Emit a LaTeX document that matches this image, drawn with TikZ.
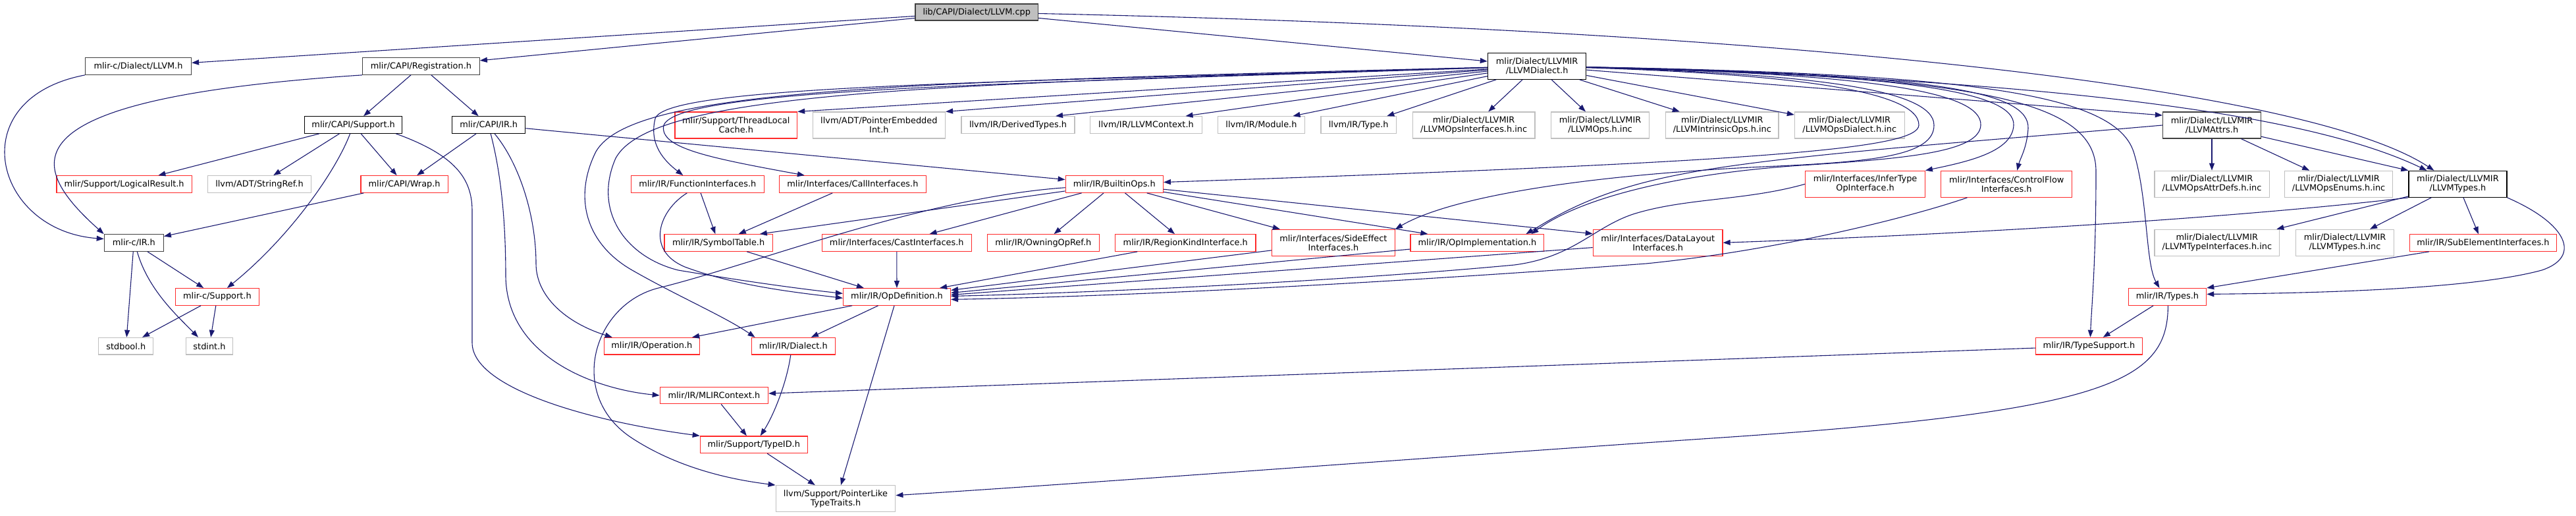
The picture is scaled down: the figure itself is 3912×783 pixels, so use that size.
\documentclass[tikz,border=0pt]{standalone}
\usepackage{fontspec}
\setmainfont{DejaVu Sans}
\usetikzlibrary{arrows.meta,calc}
\definecolor{edgecol}{HTML}{191970}
\definecolor{grey75}{HTML}{BFBFBF}
\definecolor{rdcol}{HTML}{FF2A2A}
\definecolor{dkcol}{HTML}{404040}
\newcommand{\dxfont}{\fontsize{12.9}{14}\selectfont}
\begin{document}
\begin{tikzpicture}[x=1pt,y=-1pt,
  nbox/.style={draw, rectangle, inner sep=0pt, align=center, font=\dxfont, line width=1.2pt, text=black, fill=white},
  blk/.style={nbox, draw=black},
  dk/.style={nbox, draw=dkcol},
  rd/.style={nbox, draw=rdcol},
  gy/.style={nbox, draw=grey75},
  rootbox/.style={nbox, draw=dkcol, fill=grey75},
  dep/.style={draw=edgecol, line width=1.1pt, -{Triangle[length=11pt,width=8pt]}}]
\useasboundingbox (0,0) rectangle (3912,783);
% ---------- nodes ----------
\node[rootbox, minimum width=186.5, minimum height=25] (cpp) at (1483.25,18.5) {lib/CAPI/Dialect/LLVM.cpp};
\node[dk, minimum width=161, minimum height=25.6] (cLLVM) at (210,100.5) {mlir-c/Dialect/LLVM.h};
\node[dk, minimum width=177.8, minimum height=25.6] (reg) at (639.4,100.5) {mlir/CAPI/Registration.h};
\node[blk, minimum width=149.4, minimum height=40] (dial) at (2334.1,100.3) {mlir/Dialect/LLVMIR\\/LLVMDialect.h};
\node[blk, minimum width=148.1, minimum height=25.6] (capisup) at (536.65,189.5) {mlir/CAPI/Support.h};
\node[blk, minimum width=111.1, minimum height=25.6] (capiir) at (742.15,189.5) {mlir/CAPI/IR.h};
\node[rd, minimum width=185.6, minimum height=40] (tlc) at (1117.8,190) {mlir/Support/ThreadLocal\\Cache.h};
\node[gy, minimum width=201.3, minimum height=40] (pei) at (1334.85,190) {llvm/ADT/PointerEmbedded\\Int.h};
\node[gy, minimum width=172, minimum height=25.6] (dty) at (1546,189.5) {llvm/IR/DerivedTypes.h};
\node[gy, minimum width=169.6, minimum height=25.6] (lctx) at (1740.5,189.5) {llvm/IR/LLVMContext.h};
\node[gy, minimum width=132.3, minimum height=25.6] (mod) at (1915.45,189.5) {llvm/IR/Module.h};
\node[gy, minimum width=114.5, minimum height=25.6] (typ) at (2063.25,189.5) {llvm/IR/Type.h};
\node[gy, minimum width=185.7, minimum height=40] (opsif) at (2238.15,190) {mlir/Dialect/LLVMIR\\/LLVMOpsInterfaces.h.inc};
\node[gy, minimum width=149.4, minimum height=40] (opsinc) at (2430,190) {mlir/Dialect/LLVMIR\\/LLVMOps.h.inc};
\node[gy, minimum width=171.4, minimum height=40] (intr) at (2615.3,190) {mlir/Dialect/LLVMIR\\/LLVMIntrinsicOps.h.inc};
\node[gy, minimum width=166.7, minimum height=40] (opsdial) at (2808.75,190) {mlir/Dialect/LLVMIR\\/LLVMOpsDialect.h.inc};
\node[dk, minimum width=149, minimum height=40] (attrs) at (3359,190) {mlir/Dialect/LLVMIR\\/LLVMAttrs.h};
\node[rd, minimum width=205.4, minimum height=25.6] (logres) at (188.6,279.5) {mlir/Support/LogicalResult.h};
\node[gy, minimum width=157.4, minimum height=25.6] (strref) at (394,279.5) {llvm/ADT/StringRef.h};
\node[rd, minimum width=132.3, minimum height=25.6] (wrap) at (614.15,279.5) {mlir/CAPI/Wrap.h};
\node[rd, minimum width=201.6, minimum height=25.6] (funcif) at (1059.3,279.5) {mlir/IR/FunctionInterfaces.h};
\node[rd, minimum width=223.2, minimum height=25.6] (callif) at (1294.9,279.5) {mlir/Interfaces/CallInterfaces.h};
\node[rd, minimum width=148.2, minimum height=25.6] (bops) at (1692.3,279.5) {mlir/IR/BuiltinOps.h};
\node[rd, minimum width=181.5, minimum height=40] (infer) at (2832.55,279.3) {mlir/Interfaces/InferType\\OpInterface.h};
\node[rd, minimum width=199.1, minimum height=40] (cflow) at (3047.25,279.3) {mlir/Interfaces/ControlFlow\\Interfaces.h};
\node[gy, minimum width=174.2, minimum height=40] (attrdefs) at (3359,279.3) {mlir/Dialect/LLVMIR\\/LLVMOpsAttrDefs.h.inc};
\node[gy, minimum width=163.7, minimum height=40] (enums) at (3551.55,279.3) {mlir/Dialect/LLVMIR\\/LLVMOpsEnums.h.inc};
\node[blk, minimum width=149, minimum height=40] (ltypes) at (3732.4,279.3) {mlir/Dialect/LLVMIR\\/LLVMTypes.h};
\node[dk, minimum width=90, minimum height=25.6] (cir) at (203.3,368.5) {mlir-c/IR.h};
\node[rd, minimum width=164.2, minimum height=25.6] (symtab) at (1091.1,368.5) {mlir/IR/SymbolTable.h};
\node[rd, minimum width=226.6, minimum height=25.6] (cast) at (1361.8,368.5) {mlir/Interfaces/CastInterfaces.h};
\node[rd, minimum width=169.6, minimum height=25.6] (owning) at (1584.3,368.5) {mlir/IR/OwningOpRef.h};
\node[rd, minimum width=213.5, minimum height=25.6] (region) at (1800.25,368.5) {mlir/IR/RegionKindInterface.h};
\node[rd, minimum width=187, minimum height=40] (sideeff) at (2024.9,368.3) {mlir/Interfaces/SideEffect\\Interfaces.h};
\node[rd, minimum width=202.8, minimum height=25.6] (opimpl) at (2243.4,368.5) {mlir/IR/OpImplementation.h};
\node[rd, minimum width=196.7, minimum height=40] (dlayout) at (2517.65,368.3) {mlir/Interfaces/DataLayout\\Interfaces.h};
\node[gy, minimum width=189.8, minimum height=40] (tif) at (3366.8,368.3) {mlir/Dialect/LLVMIR\\/LLVMTypeInterfaces.h.inc};
\node[gy, minimum width=149, minimum height=40] (tinc) at (3561,368.3) {mlir/Dialect/LLVMIR\\/LLVMTypes.h.inc};
\node[rd, minimum width=223.5, minimum height=25.6] (subel) at (3770.85,368.5) {mlir/IR/SubElementInterfaces.h};
\node[rd, minimum width=127.1, minimum height=25.6] (csup) at (329.95,450.4) {mlir-c/Support.h};
\node[rd, minimum width=163, minimum height=25.6] (opdef) at (1362,450.4) {mlir/IR/OpDefinition.h};
\node[rd, minimum width=118.4, minimum height=25.6] (types) at (3291.4,450.4) {mlir/IR/Types.h};
\node[gy, minimum width=83, minimum height=25.6] (stdbool) at (191.3,525.2) {stdbool.h};
\node[gy, minimum width=71.2, minimum height=25.6] (stdint) at (318,525.2) {stdint.h};
\node[rd, minimum width=145.2, minimum height=25.6] (operation) at (989.9,525.2) {mlir/IR/Operation.h};
\node[rd, minimum width=127.1, minimum height=25.6] (dialect) at (1204.75,525.2) {mlir/IR/Dialect.h};
\node[rd, minimum width=161.6, minimum height=25.6] (tsup) at (3172.4,525.2) {mlir/IR/TypeSupport.h};
\node[rd, minimum width=164.2, minimum height=25.6] (mctx) at (1084.4,600) {mlir/IR/MLIRContext.h};
\node[rd, minimum width=162.9, minimum height=25.6] (typeid) at (1144.75,674.7) {mlir/Support/TypeID.h};
\node[gy, minimum width=181.6, minimum height=40] (plt) at (1269,756.7) {llvm/Support/PointerLike\\TypeTraits.h};
% ---------- edges ----------
\begin{scope}[on background layer/.style={}]
\draw[dep] (cpp) -- (cLLVM);
\draw[dep] (cpp) -- (reg);
\draw[dep] (cpp) -- (dial);
\draw[dep] (cpp) .. controls (2700,45) and (3500,130) .. ($(ltypes.north)+(-36,0)$);
\draw[dep] (cLLVM.south west) .. controls (-60,150) and (-10,350) .. ($(cir.west)+(0,-6)$);
\draw[dep] (reg.south west) .. controls (0,150) and (40,250) .. (cir.north west);
\draw[dep] (reg) -- (capisup);
\draw[dep] (reg) -- (capiir);
% LLVMDialect
\draw[dep] (dial) -- (tlc.north east);
\draw[dep] (dial) -- (pei.north east);
\draw[dep] (dial) -- ($(dty.north)+(57,0)$);
\draw[dep] (dial) -- ($(lctx.north)+(60,0)$);
\draw[dep] (dial) -- ($(mod.north)+(48,0)$);
\draw[dep] (dial) -- ($(typ.north)+(43,0)$);
\draw[dep] (dial) -- (opsif);
\draw[dep] (dial) -- (opsinc);
\draw[dep] (dial) -- (intr);
\draw[dep] (dial) -- (opsdial);
\draw[dep] (dial) -- ($(attrs.west)+(0,-15)$);
\draw[dep] (dial) .. controls (3100,120) and (3500,170) .. ($(ltypes.north)+(-47,0)$);
\draw[dep] (dial) .. controls (1500,125) and (1010,130) .. (995,180) .. controls (985,220) and (1010,245) .. ($(funcif.north)+(-22,0)$);
\draw[dep] (dial) .. controls (1500,128) and (1030,135) .. (1008,190) .. controls (1000,225) and (1080,240) .. ($(callif.north)+(-73,0)$);
\draw[dep] (dial) .. controls (1350,125) and (960,135) .. (905,230) .. controls (870,300) and (890,370) .. (960,410) .. controls (1030,450) and (1100,480) .. ($(dialect.north west)+(6,0)$);
\draw[dep] (dial) .. controls (1400,128) and (990,140) .. (935,240) .. controls (900,320) and (950,390) .. (1030,410) .. controls (1150,430) and (1230,440) .. ($(opdef.west)+(0,-5)$);
\draw[dep] (dial) .. controls (2700,112) and (2915,135) .. (2914,190) .. controls (2912,225) and (2700,245) .. ($(bops.east)+(0,-3)$);
\draw[dep] (dial) .. controls (2750,112) and (2937,135) .. (2937,190) .. controls (2937,235) and (2850,245) .. (2700,252) .. controls (2400,265) and (2200,300) .. (sideeff.north east);
\draw[dep] (dial) .. controls (2850,112) and (3010,140) .. (3008,190) .. controls (3006,230) and (2900,240) .. (2750,250) .. controls (2550,262) and (2400,300) .. ($(opimpl.north east)+(-20,0)$);
\draw[dep] (dial) .. controls (2900,112) and (3060,140) .. (3058,190) .. controls (3056,230) and (2990,245) .. (infer.north east);
\draw[dep] (dial) .. controls (2950,112) and (3082,140) .. (3080,195) .. controls (3078,225) and (3068,240) .. ($(cflow.north)+(16,0)$);
\draw[dep] (dial) .. controls (3000,115) and (3183,150) .. (3183,260) .. controls (3183,400) and (3176,470) .. ($(tsup.north)+(2,0)$);
\draw[dep] (dial) .. controls (2980,112) and (3210,140) .. (3240,230) .. controls (3262,300) and (3258,400) .. ($(types.north)+(-12,0)$);
% CAPI/Support.h
\draw[dep] (capisup) -- (logres);
\draw[dep] (capisup) -- (strref);
\draw[dep] (capisup) -- (wrap);
\draw[dep] ($(capisup.south)+(-5,0)$) .. controls (510,260) and (440,360) .. ($(csup.north)+(15,0)$);
\draw[dep] ($(capisup.south east)+(-10,0)$) .. controls (690,235) and (717,270) .. (717,320) -- (717,520) .. controls (717,590) and (900,640) .. (typeid.north west);
% CAPI/IR.h
\draw[dep] (capiir) -- (wrap);
\draw[dep] (capiir) -- (bops);
\draw[dep] ($(capiir.south)+(9,0)$) .. controls (790,250) and (814,330) .. (814,400) .. controls (814,450) and (860,490) .. ($(operation.north west)+(13,0)$);
\draw[dep] ($(capiir.south)+(3,0)$) .. controls (760,260) and (768,330) .. (768,420) .. controls (770,540) and (900,590) .. (mctx.west);
% Wrap, IR, Support (C)
\draw[dep] (wrap) -- (cir);
\draw[dep] (cir) -- (stdbool);
\draw[dep] ($(cir.south)+(5,0)$) .. controls (225,440) and (270,480) .. ($(stdint.north)+(-17,0)$);
\draw[dep] (cir) -- (csup);
\draw[dep] (csup) -- (stdbool);
\draw[dep] (csup) -- (stdint);
% interfaces
\draw[dep] (funcif) -- (symtab);
\draw[dep] ($(funcif.south)+(-16,0)$) .. controls (1000,320) and (980,380) .. (1040,405) .. controls (1120,435) and (1220,445) .. ($(opdef.west)+(0,2)$);
\draw[dep] (callif) -- (symtab);
% BuiltinOps
\draw[dep] (bops) -- ($(symtab.north east)+(-20,0)$);
\draw[dep] (bops) .. controls (1400,300) and (1150,400) .. (1000,437) .. controls (900,462) and (860,600) .. (960,665) .. controls (1040,717) and (1130,730) .. (plt.north west);
\draw[dep] (bops) -- (cast);
\draw[dep] (bops) -- (owning);
\draw[dep] (bops) -- (region);
\draw[dep] (bops) -- ($(sideeff.north west)+(13,0)$);
\draw[dep] (bops) -- ($(opimpl.north west)+(27,0)$);
\draw[dep] (bops) -- ($(dlayout.north west)+(0,7)$);
% into OpDefinition
\draw[dep] (symtab) -- ($(opdef.north west)+(32,0)$);
\draw[dep] (cast) -- (opdef);
\draw[dep] (region) -- ($(opdef.north east)+(-17,0)$);
\draw[dep] (sideeff) -- ($(opdef.east)+(0,-10)$);
\draw[dep] (opimpl) -- ($(opdef.east)+(0,-6)$);
\draw[dep] (dlayout) -- ($(opdef.east)+(0,-3)$);
\draw[dep] (infer.west) .. controls (2650,305) and (2560,300) .. (2480,325) .. controls (2420,345) and (2390,390) .. (2300,402) .. controls (2000,430) and (1600,446) .. ($(opdef.east)+(0,-1)$);
\draw[dep] (cflow) .. controls (2900,330) and (2700,380) .. (2500,400) .. controls (2100,430) and (1700,450) .. ($(opdef.east)+(0,4)$);
% LLVMAttrs
\draw[dep] (attrs) -- (attrdefs);
\draw[dep] (attrs) -- (enums);
\draw[dep] (attrs) -- (ltypes.north west);
\draw[dep] (attrs.west) .. controls (3000,215) and (2700,235) .. (2550,265) .. controls (2420,290) and (2360,330) .. ($(opimpl.north east)+(-28,0)$);
% LLVMTypes
\draw[dep] (ltypes) -- ($(tif.north east)+(-5,0)$);
\draw[dep] (ltypes) -- ($(tinc.north)+(38,0)$);
\draw[dep] (ltypes) -- ($(subel.north)+(-7,0)$);
\draw[dep] (ltypes.south west) .. controls (3400,330) and (3000,355) .. (dlayout.east);
\draw[dep] (ltypes.south east) .. controls (3900,340) and (3920,390) .. (3860,410) .. controls (3750,440) and (3500,445) .. ($(types.east)+(0,-4)$);
\draw[dep] (subel) -- (types.north east);
% Types / TypeSupport
\draw[dep] (types) -- (tsup);
\draw[dep] ($(types.south)+(1,0)$) .. controls (3292,580) and (3200,625) .. (2600,665) .. controls (2200,692) and (1700,730) .. ($(plt.east)+(0,-5)$);
\draw[dep] (tsup) -- (mctx);
% OpDefinition and below
\draw[dep] (opdef) -- ($(operation.north east)+(-12,0)$);
\draw[dep] (opdef) -- ($(dialect.north east)+(-37,0)$);
\draw[dep] (opdef) -- ($(plt.north)+(8,0)$);
\draw[dep] ($(dialect.south)+(-4,0)$) .. controls (1195,580) and (1175,630) .. ($(typeid.north)+(10,0)$);
\draw[dep] (mctx) -- (typeid);
\draw[dep] (typeid) -- (plt);
\end{scope}
\end{tikzpicture}
\end{document}
